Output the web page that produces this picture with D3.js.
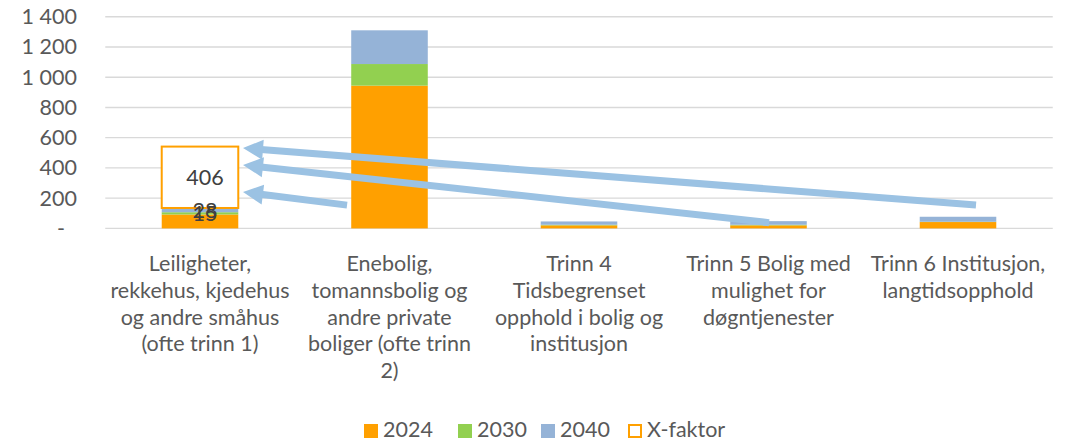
<!DOCTYPE html>
<html>
<head>
<meta charset="utf-8">
<script src="https://cdn.jsdelivr.net/npm/d3@7"></script>
<style>
  html, body { margin: 0; padding: 0; background: #fff; }
  svg text { font-family: Lato, "Noto Sans", sans-serif; }
</style>
</head>
<body>
<div id="chart"></div>
<script>
// chart data
var categories = [
  ['Leiligheter,', 'rekkehus, kjedehus', 'og andre småhus', '(ofte trinn 1)'],
  ['Enebolig,', 'tomannsbolig og', 'andre private', 'boliger (ofte trinn', '2)'],
  ['Trinn 4', 'Tidsbegrenset', 'opphold i bolig og', 'institusjon'],
  ['Trinn 5 Bolig med', 'mulighet for', 'døgntjenester'],
  ['Trinn 6 Institusjon,', 'langtidsopphold']
];
var values2024 = [92, 944, 20, 20, 42];
var values2030 = [15, 143, 4, 4, 2];
var values2040 = [28, 223, 22, 24, 33];
var valuesXFaktor = [406, 0, 0, 0, 0];
var yTicks = [0, 200, 400, 600, 800, 1000, 1200, 1400];
var seriesNames = ['2024', '2030', '2040', 'X-faktor'];

// which stacked segments carry a data label
var labelled = [[0, '2030'], [0, '2040'], [0, 'X-faktor']];

// annotation arrows: from (category, band fraction, value) to (category, band fraction, value)
var arrows = [
  { from: [4, 0.595, 154], to: [0, 0.727, 531] },
  { from: [3, 0.503, 38], to: [0, 0.727, 419] },
  { from: [1, 0.276, 154], to: [0, 0.727, 240] }
];

var width = 1075, height = 441;
var colors = { '2024': '#ffa000', '2030': '#92d050', '2040': '#95b3d7', 'X-faktor': '#ffffff' };
var textColor = '#595959';

var svg = d3.select('#chart').append('svg')
  .attr('width', width)
  .attr('height', height);

var x = d3.scaleBand()
  .domain(d3.range(categories.length))
  .range([105.25, 1052.75]);

var y = d3.scaleLinear()
  .domain([0, 1400])
  .range([228.4, 16.7]);

var barWidth = x.bandwidth() * 0.404;

// gridlines
svg.append('g').selectAll('line')
  .data(yTicks)
  .enter().append('line')
  .attr('x1', x.range()[0])
  .attr('x2', x.range()[1])
  .attr('y1', function (d) { return y(d); })
  .attr('y2', function (d) { return y(d); })
  .attr('stroke', '#d9d9d9')
  .attr('stroke-width', 1.4);

// y axis labels
var yAxis = d3.axisLeft(y)
  .tickValues(yTicks)
  .tickSize(0)
  .tickPadding(0)
  .tickFormat(function (d) {
    return d === 0 ? '-' : d3.format(',')(d).replace(/,/g, ' ');
  });

svg.append('g')
  .attr('transform', 'translate(77,0)')
  .call(yAxis)
  .call(function (g) { g.select('.domain').remove(); })
  .selectAll('text')
  .attr('fill', textColor)
  .attr('font-size', '21.5px')
  .attr('dx', function (d) { return d === 0 ? -12 : 0; });

// stacked bars
var rows = categories.map(function (c, i) {
  return { i: i, '2024': values2024[i], '2030': values2030[i], '2040': values2040[i], 'X-faktor': valuesXFaktor[i] };
});
var stack = d3.stack().keys(seriesNames)(rows);

var layers = svg.append('g').selectAll('g')
  .data(stack)
  .enter().append('g');

layers.selectAll('rect')
  .data(function (s) {
    return s.map(function (d) { d.key = s.key; return d; })
      .filter(function (d) { return d[1] > d[0]; });
  })
  .enter().append('rect')
  .attr('x', function (d) { return x(d.data.i) + (x.bandwidth() - barWidth) / 2; })
  .attr('width', barWidth)
  .attr('y', function (d) { return y(d[1]); })
  .attr('height', function (d) { return y(d[0]) - y(d[1]); })
  .attr('fill', function (d) { return colors[d.key]; })
  .attr('stroke', function (d) { return d.key === 'X-faktor' ? '#ffa000' : 'none'; })
  .attr('stroke-width', 2);

// data labels
labelled.forEach(function (l) {
  var s = stack[seriesNames.indexOf(l[1])];
  var d = s[l[0]];
  svg.append('text')
    .attr('x', x(l[0]) + x.bandwidth() / 2 + 5)
    .attr('y', y((d[0] + d[1]) / 2))
    .attr('dy', '0.35em')
    .attr('text-anchor', 'middle')
    .attr('font-size', '21.5px')
    .attr('fill', '#404040')
    .text(d[1] - d[0]);
});

// arrows
function pt(a) {
  return [x(a[0]) + a[1] * x.step(), y(a[2])];
}
var arrowColor = '#9bc2e3';
arrows.forEach(function (a) {
  var p0 = pt(a.from), p1 = pt(a.to);
  var dx = p1[0] - p0[0], dy = p1[1] - p0[1];
  var len = Math.sqrt(dx * dx + dy * dy);
  var ux = dx / len, uy = dy / len;
  var headLen = 20, headHalf = 10;
  var bx = p1[0] - ux * headLen, by = p1[1] - uy * headLen;
  svg.append('line')
    .attr('x1', p0[0]).attr('y1', p0[1])
    .attr('x2', bx + ux * 2).attr('y2', by + uy * 2)
    .attr('stroke', arrowColor)
    .attr('stroke-width', 7);
  svg.append('path')
    .attr('d', 'M' + p1[0] + ',' + p1[1] +
      'L' + (bx - uy * headHalf) + ',' + (by + ux * headHalf) +
      'L' + (bx + uy * headHalf) + ',' + (by - ux * headHalf) + 'Z')
    .attr('fill', arrowColor);
});

// category labels
var xLabels = svg.append('g').selectAll('text')
  .data(categories)
  .enter().append('text')
  .attr('text-anchor', 'middle')
  .attr('font-size', '21.5px')
  .attr('fill', textColor)
  .attr('transform', function (d, i) { return 'translate(' + (x(i) + x.bandwidth() / 2) + ',271)'; });

xLabels.selectAll('tspan')
  .data(function (d) { return d; })
  .enter().append('tspan')
  .attr('x', 0)
  .attr('y', function (d, j) { return j * 26.8; })
  .text(function (d) { return d; });

// legend
var legendX = [364, 458, 541, 628];
var legend = svg.append('g').selectAll('g')
  .data(seriesNames)
  .enter().append('g')
  .attr('transform', function (d, i) { return 'translate(' + legendX[i] + ',424)'; });

legend.append('rect')
  .attr('x', function (d) { return d === 'X-faktor' ? 1 : 0; })
  .attr('y', function (d) { return d === 'X-faktor' ? 1 : 0; })
  .attr('width', function (d) { return d === 'X-faktor' ? 12 : 14; })
  .attr('height', function (d) { return d === 'X-faktor' ? 12 : 14; })
  .attr('fill', function (d) { return colors[d]; })
  .attr('stroke', function (d) { return d === 'X-faktor' ? '#ffa000' : 'none'; })
  .attr('stroke-width', 2);

legend.append('text')
  .attr('x', 19)
  .attr('y', 13)
  .attr('font-size', '21.5px')
  .attr('fill', textColor)
  .text(function (d) { return d; });
</script>
</body>
</html>
